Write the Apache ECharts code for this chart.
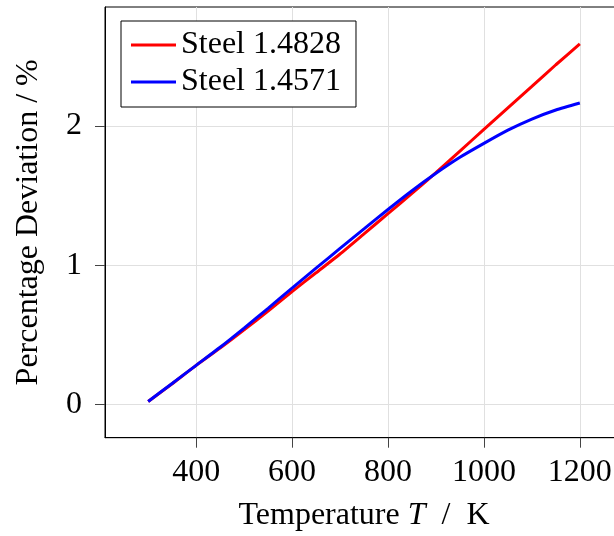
<!DOCTYPE html>
<html>
<head>
<meta charset="utf-8">
<script src="https://cdn.jsdelivr.net/npm/echarts@6/dist/echarts.min.js"></script>
<style>html,body{margin:0;padding:0;background:#fff}#c{width:614px;height:536px}</style>
</head>
<body>
<div id="c"></div>
<script>
const temperatures = [300, 350, 400, 450, 500, 550, 600, 650, 700, 750, 800, 850, 900, 950, 1000, 1050, 1100, 1150, 1200];
const steel14828 = [0.02, 0.148, 0.28, 0.405, 0.535, 0.67, 0.81, 0.945, 1.08, 1.225, 1.37, 1.515, 1.665, 1.82, 1.975, 2.13, 2.285, 2.44, 2.59];
const steel14571 = [0.02, 0.15, 0.28, 0.41, 0.548, 0.69, 0.835, 0.978, 1.12, 1.26, 1.40, 1.535, 1.66, 1.775, 1.875, 1.97, 2.05, 2.115, 2.165];
const xTicks = [400, 600, 800, 1000, 1200];
const yTicks = [0, 1, 2];

const FONT = '"Liberation Serif", "DejaVu Serif", serif';
const chart = echarts.init(document.getElementById('c'), null, {renderer: 'canvas'});
const pair = (xs, ys) => xs.map((x, i) => [x, ys[i]]);

chart.setOption({
  animation: false,
  backgroundColor: '#fff',
  grid: {left: 105, top: 7, width: 518, height: 430.7, outerBoundsMode: 'none', containLabel: false,
         show: true, borderColor: '#000', borderWidth: 1, backgroundColor: 'transparent'},
  legend: {
    orient: 'vertical', left: 121, top: 21,
    backgroundColor: '#fff', borderColor: '#000', borderWidth: 1, borderRadius: 0,
    padding: [7, 15, 8, 10], itemGap: 3, itemWidth: 45, itemHeight: 3, icon: 'rect',
    textStyle: {fontFamily: FONT, fontSize: 32, color: '#000', lineHeight: 34},
    data: ['Steel 1.4828', 'Steel 1.4571']
  },
  xAxis: {
    type: 'value', min: 210, max: 1290,
    name: '{a|Temperature }{i|T}{a|  /  K}', nameLocation: 'middle', nameGap: 62,
    nameTextStyle: {rich: {a: {fontFamily: FONT, fontSize: 32, color: '#000'}, i: {fontFamily: FONT, fontSize: 32, fontStyle: 'italic', color: '#000'}}},
    axisLine: {show: true, onZero: false, lineStyle: {color: '#000', width: 1}},
    axisTick: {show: true, inside: false, length: 10, lineStyle: {color: '#444'}, customValues: xTicks},
    axisLabel: {customValues: xTicks, margin: 19, fontFamily: FONT, fontSize: 32, color: '#000', formatter: v => String(v)},
    splitLine: {show: true, lineStyle: {color: '#e0e0e0', width: 1}}
  },
  yAxis: {
    type: 'value', min: -0.24, max: 2.855,
    name: 'Percentage Deviation / %', nameLocation: 'middle', nameGap: 60, nameRotate: 90,
    nameTextStyle: {fontFamily: FONT, fontSize: 32, color: '#000'},
    axisLine: {show: true, onZero: false, lineStyle: {color: '#000', width: 1}},
    axisTick: {show: true, inside: false, length: 10, lineStyle: {color: '#444'}, customValues: yTicks},
    axisLabel: {customValues: yTicks, margin: 23, fontFamily: FONT, fontSize: 32, color: '#000', formatter: v => String(v)},
    splitLine: {show: true, lineStyle: {color: '#e0e0e0', width: 1}}
  },
  series: [
    {name: 'Steel 1.4828', type: 'line', data: pair(temperatures, steel14828), smooth: 0.2, symbol: 'none', color: '#ff0000', lineStyle: {width: 3, color: '#ff0000'}},
    {name: 'Steel 1.4571', type: 'line', data: pair(temperatures, steel14571), smooth: 0.2, symbol: 'none', color: '#0000ff', lineStyle: {width: 3, color: '#0000ff'}}
  ]
});
</script>
</body>
</html>
